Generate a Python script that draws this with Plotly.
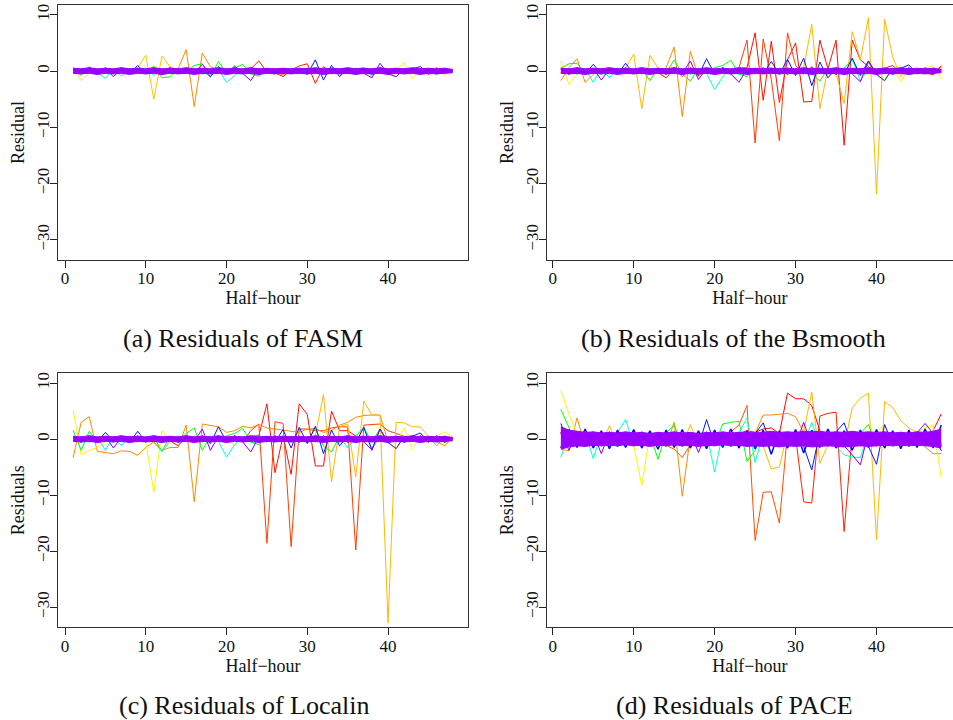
import colorsys
import plotly.graph_objects as go

# Half-hour index
hours = list(range(1, 49))

x_ticks = [0, 10, 20, 30, 40]
y_ticks = [-30, -20, -10, 0, 10]
y_tick_text = ["\u221230", "\u221220", "\u221210", "0", "10"]

captions = ["(a) Residuals of FASM", "(b) Residuals of the Bsmooth",
            "(c) Residuals of Localin", "(d) Residuals of PACE"]
y_titles = ["Residual", "Residual", "Residuals", "Residuals"]

# ---------------- panel (a) FASM ----------------
a_red = [0.2, -0.3, 0.3, -0.2, 0.2, -0.3, 0.2, -0.2, 0.3, -0.2, 0.2, -0.3, 0.6, -0.2, 0.3, -0.4,
         0.2, -0.2, 0.3, -0.3, 0.2, -0.2, 0.4, 1.8, -0.2, -0.3, -1.0, 0.2, 0.9, 1.3, -2.2, 0.8,
         -0.3, 0.3, -0.2, 0.3, -0.2, 0.2, -0.3, 0.2, -0.2, 0.3, -0.2, 0.2, -0.3, 0.6, -0.2, 0.3]
a_orange = [0.1, 0.2, -0.2, 0.1, -0.3, 0.2, 0.1, -0.2, 0.2, 0.1, -0.1, 0.3, 0.2, 0.4, 3.8, -6.3,
            3.2, 0.8, 0.2, -0.1, 0.2, 0.1, -0.2, 0.3, -0.4, -0.2, -0.7, 0.2, 0.3, 0.5, -0.2, 0.3,
            0.2, -0.1, 0.2, -0.2, 0.1, 0.2, -0.1, 0.2, 0.1, -0.2, 0.3, 0.1, -0.2, 0.2, -0.3, 0.1]
a_gold = [0.3, -0.2, 0.2, -0.1, 0.2, 0.1, -0.2, 0.2, 0.6, 2.8, -5.0, 2.7, 0.8, 0.2, -0.1, 0.2,
          0.1, -0.2, 0.3, -0.2, 0.1, 0.2, -0.1, 0.2, -0.3, 0.1, 0.2, -0.2, 0.3, 0.1, -0.2, 0.2,
          -0.3, 0.1, 0.2, -0.2, 0.1, 0.3, -0.2, 0.1, 0.3, 0.4, -0.2, 0.2, -0.1, 0.3, -0.4, 0.2]
a_yellow = [0.9, -1.7, -0.4, 0.3, -0.2, 0.4, -0.3, 0.2, 0.3, -0.4, 0.2, 0.3, -0.2, 0.4, -0.3, 0.2,
            -0.2, 0.3, -0.4, 0.2, -0.2, 0.3, -0.3, 0.2, -0.4, 0.3, -0.2, 0.2, -0.3, 0.4, -0.2, 0.3,
            -0.4, 0.2, -0.3, 0.2, -0.2, 0.3, -0.2, 0.4, 0.2, 1.5, -1.3, 0.3, -0.2, 0.4, -0.8, 0.3]
a_green = [0.5, -0.8, 0.8, -0.4, 0.5, -0.3, 0.6, -0.4, 0.5, -0.3, 0.9, -1.2, -1.0, 0.4, -0.3, 1.0,
           1.3, -1.1, 1.7, -0.4, 0.5, 1.2, -0.5, -0.9, 0.4, -0.3, 0.5, -0.4, 0.3, -0.5, 0.4, -0.3,
           0.5, -0.4, 0.3, -0.5, 0.4, -0.3, 0.6, -0.4, 0.3, -0.5, 0.4, -0.3, 0.5, -0.4, 0.3, -0.2]
a_cyan = [0.3, -0.4, 0.5, -0.3, -1.3, 0.4, -0.9, 0.5, -0.3, 0.6, -0.8, 0.4, -0.5, 0.3, -0.4, 0.5,
          -0.6, 0.4, 0.3, -2.0, -0.8, 0.4, -0.5, 0.3, -0.4, 0.5, -0.3, 0.4, -0.5, 0.3, -0.4, 0.5,
          -0.3, 0.4, -0.5, 0.3, 0.7, -1.0, 0.4, -0.3, 0.5, -0.4, 0.3, -0.5, 0.4, -0.7, 0.6, -0.2]
a_blue = [0.2, -0.4, 0.3, -0.5, 0.6, -0.3, 0.4, -0.5, 1.0, -0.4, 0.5, -0.6, 0.4, -0.3, 0.5, -0.4,
          0.3, -1.0, 0.8, -0.5, 0.9, -0.4, 0.5, -0.6, 0.4, -0.5, 0.3, -0.4, 0.5, -0.6, 2.0, -1.6,
          1.0, -1.0, 0.6, -0.5, 0.4, -0.6, 0.5, -0.4, 0.3, -0.5, 0.4, 0.8, -0.5, 0.4, -0.3, 0.2]
a_purple = [0.3, -0.4, 0.5, -0.3, 0.4, -1.0, 0.5, -0.4, 0.3, -0.5, 0.4, -0.3, 0.6, -0.4, 0.5, -0.3,
            1.2, -0.5, 0.4, -0.3, 0.6, -0.4, -1.7, 0.5, -0.4, 0.3, -0.5, 0.4, -0.3, 0.5, -0.4, 0.3,
            -0.5, 0.4, -0.3, 0.5, -0.4, -1.2, 1.4, -0.5, -1.0, 0.4, -0.3, 0.5, -0.6, 0.4, -0.3, 0.2]

# dense core of curves shared by (a), (b), (c): envelope plus two strands
band_upper = [0.5, 0.4, 0.6, 0.4, 0.5, 0.4, 0.6, 0.4, 0.5, 0.4, 0.6, 0.4, 0.5, 0.4, 0.6, 0.4,
              0.5, 0.4, 0.6, 0.4, 0.5, 0.4, 0.6, 0.4, 0.5, 0.4, 0.5, 0.4, 0.5, 0.4, 0.6, 0.4,
              0.5, 0.4, 0.6, 0.4, 0.5, 0.4, 0.6, 0.4, 0.5, 0.4, 0.6, 0.4, 0.5, 0.4, 0.5, 0.3]
band_lower = [-0.4, -0.5, -0.4, -0.6, -0.4, -0.5, -0.4, -0.6, -0.4, -0.5, -0.4, -0.6, -0.4, -0.5, -0.4, -0.6,
              -0.4, -0.5, -0.4, -0.6, -0.4, -0.5, -0.4, -0.6, -0.4, -0.5, -0.4, -0.5, -0.4, -0.5, -0.4, -0.6,
              -0.4, -0.5, -0.4, -0.6, -0.4, -0.5, -0.4, -0.6, -0.4, -0.5, -0.4, -0.6, -0.4, -0.5, -0.4, -0.3]
band_1 = [0.4, -0.3, 0.3, -0.4, 0.3, -0.3, 0.4, -0.3, 0.3, -0.4, 0.3, -0.3, 0.4, -0.3, 0.3, -0.4,
          0.3, -0.3, 0.4, -0.3, 0.3, -0.4, 0.3, -0.3, 0.4, -0.3, 0.3, -0.4, 0.3, -0.3, 0.4, -0.3,
          0.3, -0.4, 0.3, -0.3, 0.4, -0.3, 0.3, -0.4, 0.3, -0.3, 0.4, -0.3, 0.3, -0.4, 0.3, -0.1]
band_2 = [-0.3, 0.4, -0.3, 0.3, -0.4, 0.3, -0.3, 0.4, -0.3, 0.3, -0.4, 0.3, -0.3, 0.4, -0.3, 0.3,
          -0.4, 0.3, -0.3, 0.4, -0.3, 0.3, -0.4, 0.3, -0.3, 0.4, -0.3, 0.3, -0.4, 0.3, -0.3, 0.4,
          -0.3, 0.3, -0.4, 0.3, -0.3, 0.4, -0.3, 0.3, -0.4, 0.3, -0.3, 0.4, -0.3, 0.3, -0.4, 0.1]

# ---------------- panel (b) Bsmooth ----------------
b_red1 = [0.3, -0.4, 0.5, -0.3, 0.4, -0.5, 0.3, -0.4, 0.5, -0.3, 0.4, -0.5, 0.3, -0.4, 0.6, -1.0,
          0.4, -0.3, 0.5, -0.4, 0.3, -0.5, 0.6, 5.5, -12.8, 5.7, -1.5, -12.4, 6.8, 1.0, -0.5, 0.8,
          -0.4, 0.5, -0.6, 0.4, -0.3, 0.5, -0.4, 0.3, 0.6, -0.4, 0.3, -0.5, 0.4, -0.3, -0.7, 0.8]
b_red2 = [-0.3, 0.4, -0.5, 0.3, -0.4, 0.5, -0.3, 0.4, -0.5, 0.3, -0.4, 0.5, -0.3, -1.2, 0.4, -0.3,
          0.5, -0.4, 0.3, -0.5, 0.4, -0.3, 0.5, 0.6, 6.8, -5.2, 5.3, -5.6, 2.0, 5.0, -5.5, -5.4,
          5.5, 0.4, 5.5, -13.2, 5.5, 2.0, 0.8, -0.4, 0.5, 1.0, -0.4, 0.3, -0.5, 0.4, -0.3, 0.9]
b_orange = [-1.7, 0.6, 2.2, -2.0, -0.6, 0.4, -0.5, 0.3, -0.4, 0.5, -0.3, 0.4, -0.5, 0.6, 4.3, -8.1,
            3.5, -1.0, 0.4, -0.3, 0.5, -0.4, 0.3, -0.5, 0.4, -0.3, 0.5, -0.4, 0.6, -0.5, 0.4, -0.6,
            0.5, -0.4, 0.3, -0.5, 0.4, -0.3, -0.5, 0.4, -0.3, 0.5, -0.4, 0.3, -0.5, 0.4, -0.3, 0.2]
b_gold = [0.4, -0.5, 0.3, -0.4, 0.5, -0.3, 0.4, -0.5, 0.6, 3.0, -6.7, 2.8, 0.6, -0.4, 0.5, -0.3,
          0.4, -0.5, 0.3, -0.4, 0.5, -0.3, 0.4, -0.5, 0.3, -0.4, 0.5, -0.3, 0.4, -0.5, 0.6, 8.3,
          -6.7, 0.5, -0.4, -5.8, 7.0, 2.0, 9.5, -21.9, 9.2, 2.5, -1.0, 0.4, -0.3, 0.5, -0.4, 0.3]
b_yellow = [1.8, -2.4, -0.5, 0.4, -0.3, 0.5, -0.4, 0.3, -0.5, 0.4, -0.3, 0.5, -0.4, 0.3, -0.5, 0.4,
            -0.3, 0.5, -0.4, 0.3, -0.5, 0.4, -0.3, 0.5, -0.4, 0.3, -0.5, 0.4, -0.3, 0.5, -0.4, 0.3,
            -0.5, 0.4, -0.3, 0.5, -0.4, 0.3, -0.5, 0.4, -0.3, 0.6, -1.8, 0.4, -0.3, 0.5, 1.0, -1.3]
b_green = [0.5, 1.3, 1.4, -0.5, 0.4, -0.6, 0.5, -0.4, 0.3, -0.5, 0.4, -1.7, 0.5, -0.4, 2.0, -0.5,
           -1.8, 0.5, -0.4, 0.6, 1.0, 1.9, -0.5, -1.0, 0.5, -0.4, 0.6, -0.5, 0.4, -0.6, 0.5, -0.4,
           -1.8, 0.5, -0.4, 0.6, 2.0, -0.5, 1.5, -0.6, -1.7, 0.5, -0.4, 0.6, -0.5, 0.4, -0.6, 0.3]
b_cyan = [-0.4, 0.5, -0.6, 0.4, -2.0, 0.5, -1.2, 0.6, -0.5, 0.4, -0.6, 0.5, -0.4, 0.6, -0.5, 0.4,
          -0.6, 0.5, -0.4, -3.3, -1.0, 0.5, -0.6, 0.4, -0.5, 0.6, -0.4, 0.5, -0.6, 0.4, -0.5, 0.6,
          -0.4, 0.5, -0.6, 0.4, 2.2, -1.8, 0.5, -0.4, 0.6, -0.5, 0.4, -0.6, 0.5, -0.4, 0.6, -0.3]
b_blue = [0.5, -0.6, 0.4, -0.5, 1.2, -0.4, 0.5, -0.6, 1.4, -0.5, 0.6, -0.4, 0.5, -0.6, 0.4, -0.5,
          0.6, -0.8, 2.2, -0.5, 0.6, -0.4, 0.5, -0.6, 0.4, -0.5, 1.7, -0.6, 2.1, -0.8, 2.3, -2.6,
          1.6, -1.2, 0.5, -0.6, 2.3, -0.8, 1.8, -0.5, 0.4, -0.6, 0.5, 1.1, -0.5, 0.6, -0.4, 0.3]
b_purple = [0.4, -0.5, 0.6, -0.4, 0.5, -1.6, 0.4, -0.5, 0.6, -0.4, 0.5, -0.6, 0.4, -0.5, 0.6, -0.4,
            1.8, -1.5, 0.5, -0.4, 0.6, -0.5, -2.0, 0.4, -0.5, 0.6, -0.4, 0.5, -0.6, 0.4, -0.5, 0.6,
            -0.4, 0.5, -0.6, 0.4, -0.5, -1.9, 1.8, -0.6, -1.7, 0.5, -0.4, 0.6, -0.5, 0.4, -0.6, 0.3]

# ---------------- panel (c) Localin ----------------
c_red1 = [0.3, -0.4, 0.5, -0.3, 0.4, -0.5, 0.3, -0.4, 0.5, -0.3, 0.4, -0.5, 0.3, -0.4, 0.6, -0.5,
          0.4, -0.3, 0.5, -0.4, 0.3, -0.5, 1.5, 2.7, -18.6, 3.1, 2.8, -19.2, 1.8, 1.8, 1.5, 1.5,
          2.0, 2.2, 2.2, -19.8, 2.5, 2.6, 2.7, 1.5, 1.0, 0.5, -0.4, 0.3, -0.5, 0.4, -0.3, 0.2]
c_red2 = [-0.3, 0.4, -0.5, 0.3, -0.4, 0.5, -0.3, 0.4, -0.5, 0.3, -0.4, 0.5, -0.3, -1.2, 0.4, -0.3,
          0.5, -0.4, 0.3, -0.5, 0.4, -0.3, 0.5, 0.6, 6.3, -6.0, 0.5, -6.3, 6.3, 4.4, -4.8, -4.8,
          5.0, 1.5, 1.5, 0.5, -0.4, 0.5, -0.3, 0.4, -0.5, 0.4, -0.3, 0.5, -0.4, 0.3, -0.5, 0.2]
c_orange = [-3.3, 3.0, 4.0, -2.2, -2.4, -2.6, -2.1, -2.2, -2.9, -1.5, -0.5, -2.0, -1.5, -1.5, 2.5, -11.2,
            2.7, 2.5, 2.2, 1.2, 1.5, 2.3, 2.0, 2.6, 2.0, 1.8, 1.6, 1.5, 1.2, 1.8, 1.9, 1.2,
            1.5, 2.5, 3.0, 3.9, 4.2, 4.3, 4.3, -0.5, 0.5, -0.4, 0.3, -0.5, 0.4, -0.3, -1.2, 0.3]
c_gold = [0.4, -0.5, 0.3, -0.4, 0.5, -0.3, 0.4, -0.5, 0.3, -0.4, 0.5, -0.3, 0.4, -0.5, 0.3, -0.4,
          0.5, -0.3, 0.4, -0.5, 0.3, -0.4, 0.5, -0.3, 0.4, -0.5, 0.3, -0.4, 0.5, -0.3, 0.6, 8.0,
          -7.6, 2.2, 2.7, -6.7, 6.8, 4.3, 4.3, -32.8, 3.0, 2.9, 2.2, 2.2, 0.5, -0.5, -1.2, 0.2]
c_yellow = [5.2, -2.8, -2.0, -1.5, -0.5, 0.4, -0.3, 0.5, -0.4, -0.5, -9.5, 1.5, -0.5, 0.4, -0.3, 0.5,
            -0.4, 0.3, -0.5, 0.4, -1.2, 0.5, -0.4, 0.3, -0.5, 0.4, -0.3, 0.5, -0.4, 0.3, -0.5, 0.4,
            -0.3, 0.5, -0.4, 0.3, -0.5, 0.4, -0.3, 0.5, -0.4, 2.0, -1.8, 0.4, -0.3, 0.5, 1.3, 0.4]
c_green = [1.6, -2.0, 1.4, -0.5, 0.4, -0.6, 0.5, -0.4, 0.3, -0.5, 0.4, -2.2, 0.5, -0.4, 1.0, 2.0,
           -2.0, 0.5, -0.4, 0.6, 1.0, 1.9, -0.5, -1.0, 0.5, -0.4, 0.6, -0.5, 0.4, -0.6, 2.0, -1.3,
           -2.3, 0.5, -0.4, 0.6, 2.0, -0.5, 1.8, -0.6, -1.7, 0.5, -0.4, 0.6, -0.5, 0.4, -0.6, 0.3]
c_cyan = [-0.4, 0.5, -0.6, 0.4, -2.0, 0.5, -1.2, 0.6, -0.5, 0.4, -0.6, -2.2, -0.4, 0.6, -0.5, 0.4,
          -0.6, 0.5, -0.4, -3.2, -1.0, 0.5, -0.6, 0.4, -0.5, 0.6, -0.4, 0.5, -0.6, 0.4, -0.5, 0.6,
          -0.4, 0.5, -1.6, 0.4, 2.2, -1.8, 0.5, -0.4, 0.6, -0.5, 0.4, -0.6, 0.5, -1.2, 0.6, -0.3]
c_blue = [0.5, -0.6, 0.4, -0.5, 1.2, -0.4, 0.5, -0.6, 1.4, -0.5, 0.6, -0.4, 0.5, -0.6, 0.4, -0.5,
          0.6, -0.8, 2.2, -0.5, 0.6, -0.4, 0.5, -0.6, 0.4, -0.5, 1.7, -1.6, 2.1, -0.8, 2.3, -2.6,
          1.6, -1.2, 0.5, -0.6, 2.1, -2.0, 1.8, -0.5, 0.4, -0.6, 0.5, 1.1, -0.5, 0.6, -0.4, 0.3]
c_purple = [0.4, -0.5, 0.6, -0.4, 0.5, -1.6, 0.4, -0.5, 0.6, -0.4, 0.5, -0.6, 0.4, -0.5, 0.6, -0.4,
            1.8, -2.0, 0.5, -0.4, 0.6, -0.5, -2.3, 0.4, -0.5, 0.6, -0.4, 0.5, -0.6, 0.4, -0.5, 0.6,
            -0.4, 0.5, -0.6, 0.4, -0.5, -1.9, 1.8, -0.6, -1.7, 0.5, -0.4, 0.6, -0.5, 0.4, -0.6, 0.3]

# ---------------- panel (d) PACE ----------------
d_red1 = [1.2, -1.4, 1.0, -1.3, 1.1, -1.2, 1.3, -1.0, 1.2, -1.1, 1.3, -1.2, 1.0, -1.4, 1.1, -1.3,
          1.2, -1.0, 1.3, -1.1, 1.2, -1.3, 1.0, 1.5, 1.2, 1.8, 2.0, 1.0, 8.2, 7.2, 7.2, 6.0,
          1.5, -1.2, 1.0, -1.3, 1.1, -1.0, 1.3, -1.2, 1.0, -1.3, 1.2, -1.1, 1.0, -1.2, 1.5, 4.5]
d_red2 = [-1.3, 1.1, -1.2, 1.0, -1.4, 1.2, -1.0, 1.3, -1.1, 1.2, -1.3, 1.0, -1.2, 1.1, -1.3, 1.2,
          -1.0, 1.3, -1.1, 1.2, -1.4, 1.0, -1.2, 1.1, -1.3, 1.0, -1.2, 1.1, 0.5, 0.5, -11.2, -11.4,
          4.1, 4.6, 4.8, -16.5, 1.0, -1.2, 1.1, -1.3, 1.0, -1.2, 1.3, -1.1, 1.2, -1.0, 1.3, -1.2]
d_redorange = [1.0, -1.2, 1.3, -1.1, 1.2, -1.0, 1.4, -1.2, 1.1, -1.3, 1.0, -1.2, 1.3, -1.1, -1.8, -3.3,
               -1.0, 1.2, -1.3, 1.1, -1.0, 1.3, 2.5, 6.0, -18.1, -9.5, -9.4, -15.0, 1.2, -1.1, 1.3, -1.0,
               1.2, -1.3, 1.1, -1.2, 1.0, -1.3, 1.2, -1.1, 1.3, -1.0, 1.2, -1.3, 1.1, -1.2, 1.0, -1.1]
d_orange = [-1.8, -2.1, 3.8, -1.2, 1.1, -1.3, 1.2, -1.0, 1.3, -1.1, 1.2, -1.4, 1.0, -1.2, 3.0, -10.2,
            0.5, -1.1, 1.3, -1.0, 1.2, -1.3, 1.1, -1.2, 1.0, 4.3, 4.3, 4.5, 4.6, 4.0, 1.2, -1.1,
            1.3, -1.0, 1.2, -1.3, 1.1, -1.2, 1.0, -1.3, 1.2, -1.1, 1.3, -1.0, 1.2, -1.4, -2.6, -2.6]
d_gold = [1.1, -1.3, 1.2, -1.0, 1.3, -1.2, 2.4, -1.1, 1.2, -1.0, 1.3, -1.2, 1.1, -1.3, 1.0, -1.2,
          2.6, -1.1, 1.3, -1.0, 1.2, -1.3, 1.1, -1.2, 1.0, -1.3, -5.3, -5.0, 1.2, -1.1, 1.3, 8.4,
          -4.3, -1.0, 1.2, -1.3, 5.6, 7.3, 8.2, -18.0, 6.7, 5.6, 3.3, 2.0, 1.2, -1.0, 1.3, -1.2]
d_yellow = [8.7, 4.5, 1.0, -1.2, 1.1, -1.3, 1.2, -1.0, 1.3, -1.1, -8.3, 1.0, -1.2, 1.1, -1.3, 1.2,
            -1.0, 1.3, -1.1, 1.2, -1.4, 1.0, -1.2, 1.1, -1.3, 1.0, -1.2, 1.1, -1.0, 1.3, -1.1, 1.2,
            -1.4, 1.0, -1.2, 1.1, -1.3, 1.2, -1.0, 1.3, 2.7, -1.1, 1.2, -1.0, 1.3, 2.0, 2.6, -6.8]
d_green = [5.3, 2.0, -1.2, 1.1, -1.3, 1.2, -1.0, 1.3, -1.1, 1.2, -1.3, 1.0, -3.6, 1.1, 2.5, -1.2,
           1.0, -1.3, 1.2, -1.1, 2.7, 3.0, 3.2, -4.0, -2.0, 1.2, -1.1, 1.3, -1.0, 1.2, -1.3, 1.1,
           -1.2, 1.0, -1.3, 1.1, -1.2, 1.0, 2.6, -1.1, 1.3, -1.0, 1.2, -1.3, 1.1, -1.2, 1.0, -1.1]
d_cyan = [-3.3, 1.2, -1.1, 1.3, -3.5, 1.0, -1.2, 1.1, 3.5, -1.0, 1.3, -1.2, 1.1, -1.3, 1.0, -1.2,
          1.3, -1.1, 1.2, -5.9, 1.1, -1.3, 1.0, 3.8, -4.2, 1.0, -1.2, 1.1, -1.3, 1.2, -1.0, 3.0,
          -1.2, 1.1, -1.3, -2.8, -3.2, -3.3, 1.2, -1.1, 1.0, -1.3, 1.2, -1.1, 1.3, -1.0, 1.2, -1.4]
d_blue = [2.8, -1.3, 1.2, -1.0, 1.3, -1.1, 1.2, -1.4, 1.0, -1.2, 1.3, -1.1, 1.2, -1.0, 1.3, -1.2,
          1.1, -1.3, 3.5, -1.0, 1.2, -1.3, 1.1, -1.2, 1.0, 2.9, -1.1, 1.3, -1.0, 1.2, -1.3, -5.5,
          1.2, -1.1, 1.3, 2.9, -1.2, 1.1, -1.3, -4.5, 2.6, -1.0, 1.2, -1.1, 1.3, -1.2, 1.0, -2.1]
d_blue2 = [-1.6, 1.7, -1.5, 1.8, -1.6, 1.5, -1.7, 1.6, -1.5, 1.7, -1.6, 1.5, -1.8, 1.6, -1.5, 1.7,
           -1.6, 1.5, -1.7, 1.6, -1.5, 1.8, -1.6, 1.5, -1.7, 1.6, -2.7, 1.5, -1.6, 1.7, -2.5, 1.6,
           -1.5, 1.8, -1.6, 1.5, -2.0, 1.6, -1.5, 1.7, -1.6, 1.5, -1.7, 1.6, -1.5, 1.8, -1.6, 2.5]
d_purple = [1.2, -2.0, 1.1, -1.3, 1.0, -2.6, 1.2, -1.1, 1.3, -1.0, 1.2, -1.3, 1.1, -1.2, 1.0, -1.3,
            1.2, -2.4, 1.3, -1.1, 1.0, -1.2, 1.3, -1.0, 1.1, -1.3, 1.2, -1.0, 1.3, -1.1, 3.0, -1.2,
            1.0, -1.3, 1.1, -1.2, -2.8, -4.6, 1.2, -1.1, 1.3, -1.0, 1.2, -1.3, 1.1, 2.8, 1.0, -1.2]
d_upper = [2.2, 1.6, 1.4, 1.2, 1.3, 1.1, 1.2, 1.1, 1.3, 1.1, 1.2, 1.0, 1.2, 1.1, 1.3, 1.1,
           1.2, 1.0, 1.2, 1.1, 1.3, 1.1, 1.2, 1.2, 1.3, 1.2, 1.4, 1.2, 1.3, 1.2, 1.4, 1.3,
           1.4, 1.2, 1.3, 1.2, 1.4, 1.2, 1.3, 1.2, 1.3, 1.1, 1.2, 1.1, 1.3, 1.2, 1.4, 1.8]
d_lower = [-1.8, -1.4, -1.2, -1.3, -1.1, -1.2, -1.1, -1.2, -1.0, -1.2, -1.1, -1.3, -1.1, -1.2, -1.0, -1.2,
           -1.1, -1.3, -1.1, -1.2, -1.0, -1.2, -1.1, -1.3, -1.2, -1.3, -1.2, -1.4, -1.2, -1.3, -1.2, -1.4,
           -1.3, -1.2, -1.3, -1.4, -1.3, -1.2, -1.3, -1.2, -1.1, -1.2, -1.1, -1.2, -1.1, -1.2, -1.3, -1.6]
d_band_1 = [0.9, -0.8, 0.8, -0.9, 0.8, -0.8, 0.9, -0.8, 0.8, -0.9, 0.8, -0.8, 0.9, -0.8, 0.8, -0.9,
            0.8, -0.8, 0.9, -0.8, 0.8, -0.9, 0.8, -0.8, 0.9, -0.8, 0.8, -0.9, 0.8, -0.8, 0.9, -0.8,
            0.8, -0.9, 0.8, -0.8, 0.9, -0.8, 0.8, -0.9, 0.8, -0.8, 0.9, -0.8, 0.8, -0.9, 0.8, -0.8]
d_band_2 = [-0.6, 0.7, -0.5, 0.4, -0.7, 0.5, -0.4, 0.6, -0.7, 0.5, -0.6, 0.4, -0.5, 0.7, -0.6, 0.4,
            -0.7, 0.5, -0.4, 0.6, -0.5, 0.7, -0.6, 0.4, -0.5, 0.6, -0.7, 0.5, -0.4, 0.6, -0.7, 0.5,
            -0.6, 0.4, -0.5, 0.7, -0.6, 0.5, -0.4, 0.6, -0.7, 0.5, -0.6, 0.4, -0.5, 0.7, -0.6, 0.4]


def rainbow(h):
    r, g, b = colorsys.hsv_to_rgb(h, 1, 1)
    return "#%02x%02x%02x" % (int(r * 255), int(g * 255), int(b * 255))


# (series, hue, width) drawn in order: red first, violet on top
panels = [
    [(a_red, 0.02, 1), (a_orange, 0.09, 1), (a_gold, 0.13, 1), (a_yellow, 0.16, 1),
     (a_green, 0.33, 1), (a_cyan, 0.47, 1), (a_blue, 0.65, 1), (a_purple, 0.75, 1)],
    [(b_red2, 0.01, 1), (b_red1, 0.04, 1), (b_orange, 0.09, 1), (b_gold, 0.12, 1),
     (b_yellow, 0.16, 1), (b_green, 0.33, 1), (b_cyan, 0.47, 1), (b_blue, 0.65, 1),
     (b_purple, 0.75, 1)],
    [(c_red2, 0.01, 1), (c_red1, 0.04, 1), (c_orange, 0.09, 1), (c_gold, 0.12, 1),
     (c_yellow, 0.16, 1), (c_green, 0.33, 1), (c_cyan, 0.47, 1), (c_blue, 0.65, 1),
     (c_purple, 0.75, 1)],
    [(d_red1, 0.0, 1), (d_red2, 0.02, 1), (d_redorange, 0.05, 1), (d_orange, 0.09, 1),
     (d_gold, 0.12, 1), (d_yellow, 0.16, 1), (d_green, 0.33, 1), (d_cyan, 0.47, 1),
     (d_blue, 0.65, 1), (d_blue2, 0.66, 1.5), (d_purple, 0.75, 1)],
]
cores = [(band_upper, band_lower, [band_1, band_2]),
         (band_upper, band_lower, [band_1, band_2]),
         (band_upper, band_lower, [band_1, band_2]),
         (d_upper, d_lower, [d_band_1, d_band_2])]

W, H = 953, 720
# plot boxes in pixels: left, right, top, bottom
boxes = [(58, 468, 5, 260), (546.7, 953, 5, 260),
         (58, 468, 373.3, 627.3), (546.7, 953, 373.3, 627.3)]
x_ranges = [[-0.87, 49.9], [-0.75, 49.45], [-0.87, 49.9], [-0.75, 49.45]]
caption_pos = [(243.5, 338), (733.5, 338), (244.5, 705), (734.5, 705)]

serif = "Liberation Serif"
fig = go.Figure()
layout = {}
for i, series in enumerate(panels):
    n = i + 1
    xa, ya = ("x%d" % n if n > 1 else "x"), ("y%d" % n if n > 1 else "y")
    for vals, hue, width in series:
        fig.add_trace(go.Scatter(x=hours, y=vals, mode="lines", xaxis=xa, yaxis=ya,
                                 line=dict(color=rainbow(hue), width=width),
                                 showlegend=False, hoverinfo="skip"))
    upper, lower, strands = cores[i]
    fig.add_trace(go.Scatter(x=hours, y=upper, mode="lines", xaxis=xa, yaxis=ya,
                             line=dict(color="#9a00ff", width=1),
                             showlegend=False, hoverinfo="skip"))
    fig.add_trace(go.Scatter(x=hours, y=lower, mode="lines", xaxis=xa, yaxis=ya,
                             line=dict(color="#9a00ff", width=1), fill="tonexty",
                             fillcolor="#9a00ff", showlegend=False, hoverinfo="skip"))
    for k, vals in enumerate(strands):
        fig.add_trace(go.Scatter(x=hours, y=vals, mode="lines", xaxis=xa, yaxis=ya,
                                 line=dict(color=["#8400ff", "#b000ff"][k], width=1),
                                 showlegend=False, hoverinfo="skip"))

    left, right, top, bottom = boxes[i]
    full_box = i in (0, 2)
    layout["xaxis%d" % n if n > 1 else "xaxis"] = dict(
        domain=[left / W, right / W], anchor=ya, range=x_ranges[i],
        tickvals=x_ticks, ticks="outside", ticklen=7, tickcolor="#222",
        showline=True, linecolor="#333", linewidth=1, mirror=True,
        showgrid=False, zeroline=False, ticklabelstandoff=-4,
        tickfont=dict(family=serif, size=17, color="#111"),
        title=dict(text="Half\u2212hour", standoff=0, font=dict(family=serif, size=18, color="#111")))
    layout["yaxis%d" % n if n > 1 else "yaxis"] = dict(
        domain=[1 - bottom / H, 1 - top / H], anchor=xa, range=[-33.6, 11.75],
        tickvals=y_ticks, ticktext=y_tick_text, tickangle=-90,
        ticks="outside", ticklen=7, tickcolor="#222",
        showline=True, linecolor="#333", linewidth=1, mirror=full_box,
        showgrid=False, zeroline=False, ticklabelstandoff=-6,
        tickfont=dict(family=serif, size=17, color="#111"),
        title=dict(text=y_titles[i], standoff=4, font=dict(family=serif, size=18, color="#111")))

annotations = []
for (cx, cy), text in zip(caption_pos, captions):
    annotations.append(dict(x=cx / W, y=1 - cy / H, xref="paper", yref="paper",
                            text=text, showarrow=False, xanchor="center", yanchor="middle",
                            font=dict(family=serif, size=26, color="#111")))

fig.update_layout(width=W, height=H, margin=dict(l=0, r=0, t=0, b=0),
                  plot_bgcolor="white", paper_bgcolor="white",
                  annotations=annotations, **layout)
# the page's default body margin would shift the figure by 8px
fig.write_html("out.html", config={"displayModeBar": False},
               post_script="document.body.style.margin='0';")
